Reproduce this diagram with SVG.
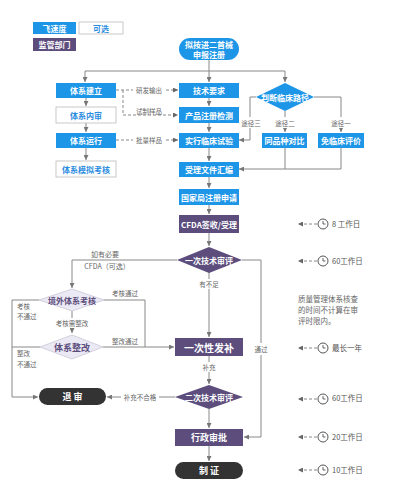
<svg xmlns="http://www.w3.org/2000/svg" width="405" height="500" viewBox="0 0 405 500">
<defs>
<marker id="ar" viewBox="0 0 6 6" refX="6" refY="3" markerWidth="5" markerHeight="5" orient="auto"><path d="M0,0L6,3L0,6z" fill="#777"/></marker>
<marker id="ard" viewBox="0 0 6 6" refX="6" refY="3" markerWidth="5" markerHeight="5" orient="auto"><path d="M0,0L6,3L0,6z" fill="#666"/></marker>
<g id="clk"><circle cx="0" cy="0" r="5" fill="#fff" stroke="#555" stroke-width="1"/><path d="M0,-3V0H2.5" fill="none" stroke="#555" stroke-width="0.9"/></g>
</defs>
<style>
text{font-family:"Noto Sans CJK SC","Noto Sans",sans-serif}
.b{fill:#1e96e8}
.p{fill:#5c4d7d}
.k{fill:#333}
.w{fill:#fff;stroke:#bbb;stroke-width:0.8}
.lv{fill:#ebe9f3;stroke:#c9c6d6;stroke-width:0.8}
.t{fill:#fff;font-size:8px;font-weight:bold;text-anchor:middle;dominant-baseline:central}
.tb{fill:#2c8de0;font-size:8px;font-weight:bold;text-anchor:middle;dominant-baseline:central}
.tp{fill:#5c4d7d;font-size:8px;font-weight:bold;text-anchor:middle;dominant-baseline:central}
.l{fill:none;stroke:#888;stroke-width:1}
.d{fill:none;stroke:#888;stroke-width:1;stroke-dasharray:3,2}
.lb{fill:#666;font-size:6.5px;text-anchor:middle;dominant-baseline:central}
.lbl{fill:#555;font-size:7.5px;dominant-baseline:central}
</style>
<rect width="405" height="500" fill="#fff"/>

<g id="legend">
<rect x="33" y="22" width="43" height="12" class="b"/><text x="54.5" y="28" class="t">飞速度</text>
<rect x="79" y="22" width="44" height="12" class="w"/><text x="101" y="28" class="tb">可选</text>
<rect x="33" y="38" width="43" height="13" class="p"/><text x="54.5" y="44.5" class="t">监管部门</text>
</g>

<g id="connectors">
<path class="l" d="M209,60V71M85,71H285"/>
<path class="l" d="M85,71V82" marker-end="url(#ar)"/>
<path class="l" d="M209,71V82" marker-end="url(#ar)"/>
<path class="l" d="M285,71V82" marker-end="url(#ar)"/>
<path class="l" d="M86,98V106" marker-end="url(#ar)"/>
<path class="l" d="M86,123V132" marker-end="url(#ar)"/>
<path class="l" d="M86,148V160" marker-end="url(#ar)"/>
<path class="d" d="M116,90H178" marker-end="url(#ard)"/>
<path class="d" d="M123,90V115H178" marker-end="url(#ard)"/>
<path class="d" d="M116,140H178" marker-end="url(#ard)"/>
<path class="l" d="M209,98V106" marker-end="url(#ar)"/>
<path class="l" d="M209,123V132" marker-end="url(#ar)"/>
<path class="l" d="M209,148V161" marker-end="url(#ar)"/>
<path class="l" d="M209,177V188" marker-end="url(#ar)"/>
<path class="l" d="M209,205V214" marker-end="url(#ar)"/>
<path class="l" d="M209,233V246" marker-end="url(#ar)"/>
<path class="l" d="M256,97H250V140H239" marker-end="url(#ar)"/>
<path class="l" d="M285,111V132" marker-end="url(#ar)"/>
<path class="l" d="M314,97H341V132" marker-end="url(#ar)"/>
<path class="l" d="M285,148V169M341,148V169H239" marker-end="url(#ar)"/>
<path class="l" d="M209,272V337" marker-end="url(#ar)"/>
<path class="l" d="M242,260H261V437H244" marker-end="url(#ar)"/>
<path class="l" d="M177,260H72V288" marker-end="url(#ar)"/>
<path class="l" d="M104,300H145V347"/>
<path class="l" d="M103,347H174" marker-end="url(#ar)"/>
<path class="l" d="M72,311V333" marker-end="url(#ar)"/>
<path class="l" d="M39,300H12V397H38" marker-end="url(#ar)"/>
<path class="l" d="M40,347H12"/>
<path class="l" d="M209,356V384" marker-end="url(#ar)"/>
<path class="l" d="M175,397H107" marker-end="url(#ar)"/>
<path class="l" d="M209,409V428" marker-end="url(#ar)"/>
<path class="l" d="M209,446V461" marker-end="url(#ar)"/>
<rect x="133" y="85" width="32" height="10" fill="#fff"/><text x="149" y="90" class="lb">研发输出</text>
<text x="149" y="111" class="lb">试制样品</text>
<rect x="133" y="135" width="32" height="10" fill="#fff"/><text x="149" y="140" class="lb">批量样品</text>
<rect x="240" y="117" width="22" height="11" fill="#fff"/><text x="251" y="122.5" class="lb">途径三</text>
<rect x="274" y="117" width="22" height="11" fill="#fff"/><text x="285" y="122.5" class="lb">途径二</text>
<rect x="330" y="117" width="22" height="11" fill="#fff"/><text x="341" y="122.5" class="lb">途径一</text>
<text x="105" y="254" class="lb" style="font-size:7px">如有必要</text>
<text x="107" y="266" class="lb" style="font-size:7px">CFDA（可选）</text>
<text x="125" y="293" class="lb">考核通过</text>
<text x="17" y="306" class="lbl" style="font-size:6.5px;fill:#666">考核</text>
<text x="17" y="316" class="lbl" style="font-size:6.5px;fill:#666">不通过</text>
<rect x="56" y="318" width="32" height="10" fill="#fff"/><text x="72" y="323" class="lb">考核需整改</text>
<text x="125" y="341" class="lb">整改通过</text>
<text x="17" y="353" class="lbl" style="font-size:6.5px;fill:#666">整改</text>
<text x="17" y="364" class="lbl" style="font-size:6.5px;fill:#666">不通过</text>
<rect x="198" y="279" width="22" height="10" fill="#fff"/><text x="209" y="284" class="lb">有不足</text>
<rect x="252" y="343" width="18" height="12" fill="#fff"/><text x="261" y="349" class="lb">通过</text>
<rect x="201" y="362" width="16" height="10" fill="#fff"/><text x="209" y="367" class="lb">补充</text>
<rect x="121" y="392" width="38" height="10" fill="#fff"/><text x="140" y="397" class="lb">补充不合格</text>
</g>

<g id="n-start"><rect x="179" y="38" width="60" height="22" rx="11" class="b"/><text x="209" y="44.5" class="t">拟按进二首械</text><text x="209" y="54" class="t">申报注册</text></g>
<g id="n-jianli"><rect x="56" y="83" width="60" height="15" class="b"/><text x="86" y="90.5" class="t">体系建立</text></g>
<g id="n-neishen"><rect x="56" y="107" width="60" height="16" class="w"/><text x="86" y="115" class="tb">体系内审</text></g>
<g id="n-yunxing"><rect x="56" y="133" width="60" height="15" class="b"/><text x="86" y="140.5" class="t">体系运行</text></g>
<g id="n-moni"><rect x="56" y="161" width="60" height="16" class="w"/><text x="86" y="169" class="tb">体系模拟考核</text></g>
<g id="n-jishu"><rect x="179" y="83" width="60" height="15" class="b"/><text x="209" y="90.5" class="t">技术要求</text></g>
<g id="n-jiance"><rect x="179" y="107" width="60" height="16" class="b"/><text x="209" y="115" class="t">产品注册检测</text></g>
<g id="n-linchuang"><rect x="179" y="133" width="60" height="15" class="b"/><text x="209" y="140.5" class="t">实行临床试验</text></g>
<g id="n-huibian"><rect x="179" y="162" width="60" height="15" class="b"/><text x="209" y="169.5" class="t">受理文件汇编</text></g>
<g id="n-shenqing"><rect x="179" y="189" width="60" height="16" class="b"/><text x="209" y="197" class="t">国家局注册申请</text></g>
<g id="n-cfda"><rect x="179" y="215" width="60" height="18" class="p"/><text x="209" y="224" class="t">CFDA签收/受理</text></g>
<g id="n-panduan"><path d="M285,83L314,97L285,111L256,97Z" class="b"/><text x="285" y="97" class="t">判断临床路径</text></g>
<g id="n-tongpin"><rect x="262" y="133" width="45" height="15" class="b"/><text x="284.5" y="140.5" class="t">同品种对比</text></g>
<g id="n-mian"><rect x="318" y="133" width="46" height="15" class="b"/><text x="341" y="140.5" class="t">免临床评价</text></g>
<g id="n-yici"><path d="M209,247L242,260L209,273L177,260Z" class="p"/><text x="209" y="260" class="t">一次技术审评</text></g>
<g id="n-jingwai"><path d="M72,289L104,300L72,311L39,300Z" class="lv"/><text x="72" y="300" class="tp">境外体系考核</text></g>
<g id="n-zhenggai"><path d="M72,335L103,347L72,359L40,347Z" class="lv"/><text x="72" y="347" class="tp" style="font-size:9px">体系整改</text></g>
<g id="n-fabu"><rect x="175" y="338" width="68" height="18" class="p"/><text x="209" y="347" class="t" style="font-size:10px">一次性发补</text></g>
<g id="n-erci"><path d="M209,385L243,397L209,409L175,397Z" class="p"/><text x="209" y="397" class="t">二次技术审评</text></g>
<g id="n-tuishen"><rect x="39" y="388" width="67" height="17" rx="8.5" class="k"/><text x="72.5" y="396.5" class="t" style="font-size:9px">退 审</text></g>
<g id="n-xingzheng"><rect x="175" y="429" width="68" height="17" class="p"/><text x="209" y="437.5" class="t" style="font-size:9px">行政审批</text></g>
<g id="n-zhizheng"><rect x="175" y="462" width="68" height="17" rx="8.5" class="k"/><text x="209" y="470.5" class="t" style="font-size:9px">制 证</text></g>

<g id="timeline">
<path class="d" d="M317,224H298" marker-end="url(#ard)"/><use href="#clk" x="323" y="224"/><text x="332" y="223" class="lbl">8 工作日</text>
<path class="d" d="M317,261H298" marker-end="url(#ard)"/><use href="#clk" x="323" y="261"/><text x="332" y="260" class="lbl">60工作日</text>
<text x="298" y="298" class="lbl" style="font-size:7.5px;fill:#666">质量管理体系核查</text>
<text x="298" y="309" class="lbl" style="font-size:7.5px;fill:#666">的时间不计算在审</text>
<text x="298" y="320" class="lbl" style="font-size:7.5px;fill:#666">评时限内。</text>
<path class="d" d="M317,348H298" marker-end="url(#ard)"/><use href="#clk" x="323" y="348"/><text x="332" y="347" class="lbl">最长一年</text>
<path class="d" d="M317,399H298" marker-end="url(#ard)"/><use href="#clk" x="323" y="399"/><text x="332" y="397" class="lbl">60工作日</text>
<path class="d" d="M317,437H298" marker-end="url(#ard)"/><use href="#clk" x="323" y="437"/><text x="332" y="436" class="lbl">20工作日</text>
<path class="d" d="M317,470H298" marker-end="url(#ard)"/><use href="#clk" x="323" y="470"/><text x="332" y="469" class="lbl">10工作日</text>
</g>
</svg>
